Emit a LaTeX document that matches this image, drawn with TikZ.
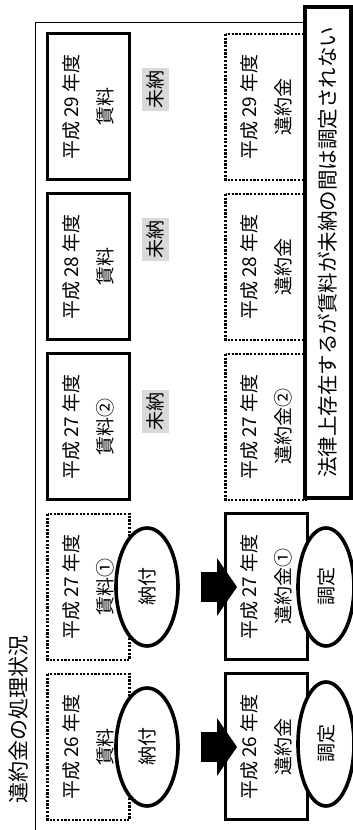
\documentclass[tikz,border=0pt]{standalone}
\usepackage{fontspec}
\setmainfont{Noto Sans CJK JP}
\usepackage{tikz}
\usetikzlibrary{shapes.geometric,arrows.meta}
\definecolor{unpaidgray}{RGB}{217,217,217}

\begin{document}
\begin{tikzpicture}[x=1pt,y=1pt,
  solidbox/.style={draw,line width=3pt,minimum width=146pt,minimum height=82pt,inner sep=0pt,align=center,font=\fontsize{19}{34}\selectfont},
  dotbox/.style={solidbox,line width=2.5pt,dash pattern=on 2.2pt off 1.5pt},
  oval/.style={draw,ellipse,fill=white,line width=3.6pt,inner sep=0pt,font=\fontsize{19}{23}\selectfont},
  unpaid/.style={fill=unpaidgray,inner sep=0pt,minimum width=43pt,minimum height=27pt,font=\fontsize{19}{23}\selectfont},
  notebox/.style={draw,fill=white,line width=4.5pt,minimum width=491pt,minimum height=46pt,inner sep=0pt,font=\fontsize{20.5}{24}\selectfont},
  bigarrow/.style={line width=30pt,-{Triangle[length=20pt,width=58pt,line width=0pt]},shorten <=21pt,shorten >=-13pt}]
\useasboundingbox (0,0) rectangle (353,830);
\begin{scope}[shift={(353,0)},rotate=90,transform shape]
% Drawing frame and title
\draw[line width=1pt] (0,317.5) -- (807.3,317.5) -- (807.3,30);
\node[font=\fontsize{21}{25}\selectfont] (title) at (111,334) {違約金の処理状況};
% Done with frame; drawing rent row
% Column 1: H26
\node[dotbox] (rent26) at (83,264.5) {平成 26 年度\\賃料};
% Column 2: H27 (1)
\node[dotbox] (rent27a) at (243,264.5) {平成 27 年度\\賃料①};
% Column 3: H27 (2)
\node[solidbox] (rent27b) at (403,264.5) {平成 27 年度\\賃料②};
% Column 4: H28
\node[solidbox] (rent28) at (563,264.5) {平成 28 年度\\賃料};
% Column 5: H29
\node[solidbox] (rent29) at (723,264.5) {平成 29 年度\\賃料};
% Done with rent row; drawing penalty row
\node[solidbox] (pen26) at (83,86.5) {平成 26 年度\\違約金};
\node[solidbox] (pen27a) at (243,86.5) {平成 27 年度\\違約金①};
\node[dotbox] (pen27b) at (403,86.5) {平成 27 年度\\違約金②};
\node[dotbox] (pen28) at (563,86.5) {平成 28 年度\\違約金};
\node[dotbox] (pen29) at (723,86.5) {平成 29 年度\\違約金};
% Done with boxes; drawing ovals
\node[oval,minimum width=118pt,minimum height=62pt] (pay26) at (83,206) {納付};
\node[oval,minimum width=118pt,minimum height=62pt] (pay27) at (243,206) {納付};
\node[oval,minimum width=124pt,minimum height=56pt] (fix26) at (86,27) {調定};
\node[oval,minimum width=118pt,minimum height=56pt] (fix27) at (243,27) {調定};
% Unpaid marks
\node[unpaid] (unpaid27) at (418,197.5) {未納};
\node[unpaid] (unpaid28) at (590,197.5) {未納};
\node[unpaid] (unpaid29) at (740,197.5) {未納};
% Arrows
\draw[bigarrow] (pay26) -- (pen26);
\draw[bigarrow] (pay27) -- (pen27a);
% Done with arrows; drawing note
\node[notebox] (note) at (577.5,25) {法律上存在するが賃料が未納の間は調定されない};
\end{scope}
\end{tikzpicture}
\end{document}
